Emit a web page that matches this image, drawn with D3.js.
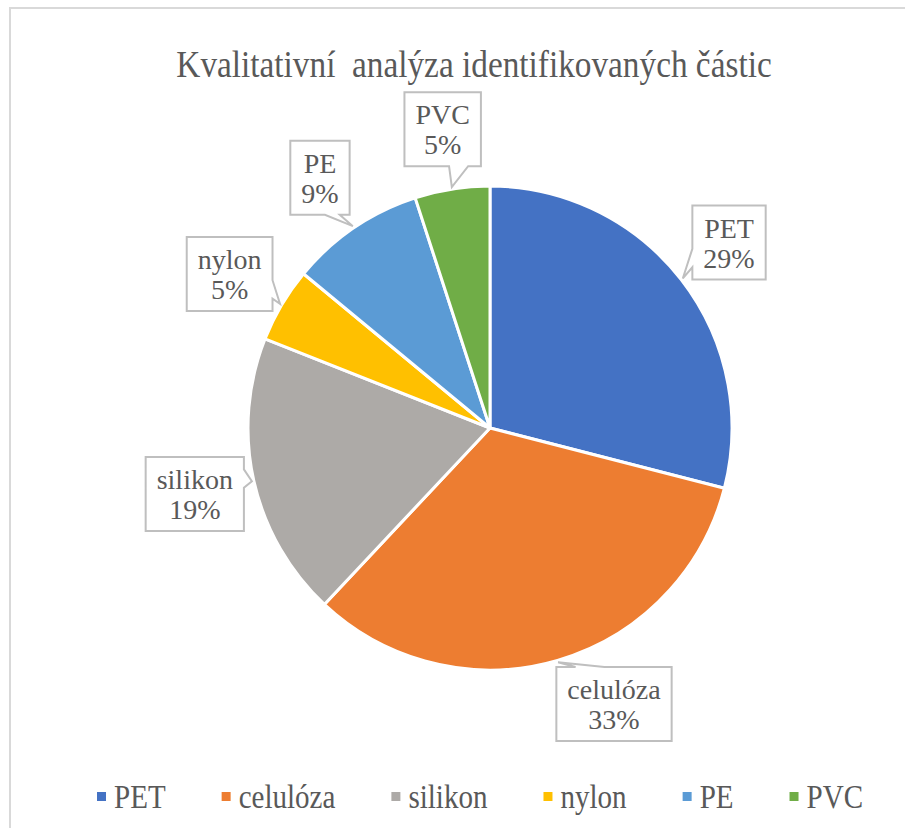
<!DOCTYPE html>
<html>
<head>
<meta charset="utf-8">
<script src="https://cdn.jsdelivr.net/npm/d3@7"></script>
</head>
<body style="margin:0">
<script>
// chart data
var title = "Kvalitativní  analýza identifikovaných částic";
var categories = ["PET", "celulóza", "silikon", "nylon", "PE", "PVC"];
var values = [29, 33, 19, 5, 9, 5];
var colours = ["#4472C4", "#ED7D31", "#ADAAA7", "#FFC000", "#5B9BD5", "#70AD47"];
// small angular nudge (degrees) of each callout box, like Excel moved celulóza
var labelNudge = [0, -8, 0, 0, 0, 0];

var W = 905, H = 828;
var cx = 490, cy = 428, radius = 242;
var textColour = "#595959";

// Times advance widths (em) so boxes can be sized without measuring the DOM
var advance = { "P": .556, "E": .611, "T": .611, "V": .722, "C": .667, "c": .444, "e": .444,
  "l": .278, "u": .5, "ó": .5, "z": .444, "a": .444, "s": .389, "i": .278, "k": .5,
  "o": .5, "n": .5, "y": .5, "%": .833 };
function textWidth(str, size) {
  var w = 0;
  for (var k = 0; k < str.length; k++) {
    w += advance[str[k]] !== undefined ? advance[str[k]] : .5;
  }
  return w * size;
}

function polar(angle, r) {
  return [Math.sin(angle) * r, -Math.cos(angle) * r];
}

function addText(parent, size, str) {
  return parent.append("text")
    .attr("font-size", size)
    .attr("font-family", "Times New Roman")
    .attr("fill", textColour)
    .text(str);
}

var svg = d3.select("body").append("svg")
  .attr("width", W).attr("height", H)
  .attr("font-family", "Times New Roman");

// chart area border (only top and left visible in the picture)
svg.append("rect")
  .attr("x", 10).attr("y", 8)
  .attr("width", 1000).attr("height", 1000)
  .attr("fill", "none")
  .attr("stroke", "#d9d9d9")
  .attr("stroke-width", 2);

// title
addText(svg, 37, title)
  .attr("transform", "translate(474,77) scale(0.9,1)")
  .attr("text-anchor", "middle")
  .attr("xml:space", "preserve");

var total = d3.sum(values);
var pie = d3.pie().sort(null).value(function(d) { return d; });
var arcs = pie(values);
var arc = d3.arc().innerRadius(0).outerRadius(radius);

var g = svg.append("g").attr("transform", "translate(" + cx + "," + cy + ")");

g.selectAll("path.slice")
  .data(arcs)
  .enter().append("path")
  .attr("class", "slice")
  .attr("d", arc)
  .attr("fill", function(d, i) { return colours[i]; })
  .attr("stroke", "#fff")
  .attr("stroke-width", 3)
  .attr("stroke-linejoin", "round");

// callouts
var labels = g.selectAll("g.callout")
  .data(arcs)
  .enter().append("g")
  .attr("class", "callout");

labels.each(function(d, i) {
  var sel = d3.select(this);
  var mid = (d.startAngle + d.endAngle) / 2;
  var tip = polar(mid, radius + 2);
  var c = polar(mid + labelNudge[i] * Math.PI / 180, radius * 1.25);

  var line1 = categories[i];
  var line2 = Math.round(d.value / total * 100) + "%";

  var path = sel.append("path");
  addText(sel, 28, line1).attr("text-anchor", "middle")
    .attr("x", c[0]).attr("y", c[1] - 5);
  addText(sel, 28, line2).attr("text-anchor", "middle")
    .attr("x", c[0]).attr("y", c[1] + 25);

  var tw = Math.max(textWidth(line1, 28), textWidth(line2, 28));
  var w = tw + 22, h = 74;
  var x0 = c[0] - w / 2, y0 = c[1] - h / 2, x1 = x0 + w, y1 = y0 + h;

  var dxn = (tip[0] - c[0]) / w, dyn = (tip[1] - c[1]) / h;
  var pts;
  if (Math.abs(dxn) > Math.abs(dyn)) {
    var ya = dyn > 0 ? y0 + h * 7 / 12 : y0 + h * 2 / 12;
    var yb = dyn > 0 ? y0 + h * 10 / 12 : y0 + h * 5 / 12;
    if (dxn > 0) {
      pts = [[x0, y0], [x1, y0], [x1, ya], tip, [x1, yb], [x1, y1], [x0, y1]];
    } else {
      pts = [[x0, y0], [x1, y0], [x1, y1], [x0, y1], [x0, yb], tip, [x0, ya]];
    }
  } else {
    var xa = dxn > 0 ? x0 + w * 7 / 12 : x0 + w * 2 / 12;
    var xb = dxn > 0 ? x0 + w * 10 / 12 : x0 + w * 5 / 12;
    if (dyn > 0) {
      pts = [[x0, y0], [x1, y0], [x1, y1], [xb, y1], tip, [xa, y1], [x0, y1]];
    } else {
      pts = [[x0, y0], [xa, y0], tip, [xb, y0], [x1, y0], [x1, y1], [x0, y1]];
    }
  }
  path.attr("d", d3.line()(pts) + "Z")
    .attr("fill", "#fff")
    .attr("stroke", "#bfbfbf")
    .attr("stroke-width", 2);
});

// legend
var legend = svg.append("g").attr("class", "legend");
var legendSize = 33, legendScale = 0.88, sq = 9, sqGap = 8, itemGap = 56;
var widths = categories.map(function(c) { return textWidth(c, legendSize) * legendScale; });
var totalW = d3.sum(widths) + categories.length * (sq + sqGap) + (categories.length - 1) * itemGap;
var xpos = 480 - totalW / 2;

categories.forEach(function(cat, i) {
  var it = legend.append("g").attr("class", "item");
  it.append("rect")
    .attr("x", xpos).attr("y", 792)
    .attr("width", sq).attr("height", sq)
    .attr("fill", colours[i]);
  addText(it, legendSize, cat)
    .attr("transform", "translate(" + (xpos + sq + sqGap) + ",808) scale(" + legendScale + ",1)");
  xpos += sq + sqGap + widths[i] + itemGap;
});
</script>
</body>
</html>
